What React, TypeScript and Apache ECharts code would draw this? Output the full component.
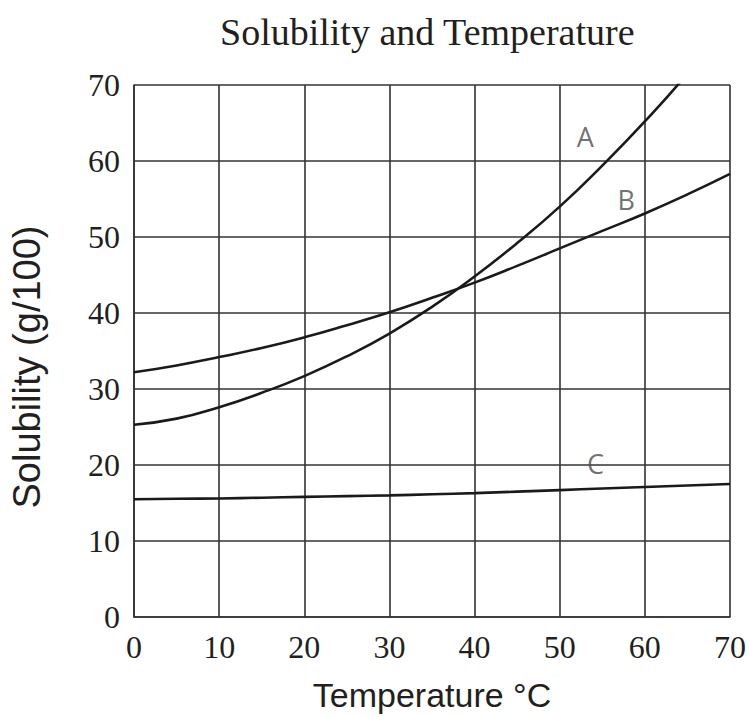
import React, { useEffect, useRef } from "react";
import * as echarts from "echarts";

const temps = [0, 5, 10, 15, 20, 25, 30, 35, 40, 45, 50, 55, 60, 65, 70];
const seriesA = [25.3, 26.1, 27.6, 29.5, 31.7, 34.3, 37.3, 40.8, 44.8, 49.2, 54.0, 59.4, 65.2, 71.5, 78.5];
const seriesB = [32.2, 33.1, 34.2, 35.4, 36.8, 38.4, 40.1, 42.0, 44.0, 46.2, 48.5, 50.8, 53.1, 55.6, 58.3];
const seriesC = [15.5, 15.55, 15.6, 15.7, 15.8, 15.9, 16.0, 16.15, 16.3, 16.5, 16.7, 16.9, 17.1, 17.3, 17.5];

const labelNames = ["A", "B", "C"];
const labelX = [53, 57.8, 54.2];
const labelY = [63.2, 54.9, 20.2];

const xTicks = [0, 10, 20, 30, 40, 50, 60, 70];
const yTicks = [0, 10, 20, 30, 40, 50, 60, 70];

const SERIF = "'Liberation Serif', 'Times New Roman', serif";
const SANS = "'Liberation Sans', Arial, sans-serif";

export default function App() {
  const ref = useRef<HTMLDivElement>(null);
  useEffect(() => {
    if (!ref.current) return;
    const chart = echarts.init(ref.current, null, { renderer: "svg" });
    const pair = (ys: number[]) => temps.map((t, i) => [t, ys[i]]);
    const lineStyle = { color: "#1a1a1a", width: 2.6 };
    chart.setOption({
      animation: false,
      backgroundColor: "#ffffff",
      title: {
        text: "Solubility and Temperature",
        left: 215,
        top: 8,
        textStyle: { fontFamily: SERIF, fontSize: 38, fontWeight: "normal", color: "#231f20" },
      },
      grid: { left: 134, right: 18, top: 85, bottom: 97, containLabel: false },
      xAxis: {
        type: "value",
        min: xTicks[0],
        max: xTicks[xTicks.length - 1],
        interval: 10,
        name: "Temperature °C",
        nameLocation: "middle",
        nameGap: 61,
        nameTextStyle: { fontFamily: SANS, fontSize: 34, color: "#231f20" },
        axisLine: { show: true, lineStyle: { color: "#333", width: 1.6 } },
        axisTick: { show: false },
        axisLabel: { fontFamily: SERIF, fontSize: 32, color: "#231f20", margin: 14 },
        splitLine: { show: true, lineStyle: { color: "#333", width: 1.6 } },
      },
      yAxis: {
        type: "value",
        min: yTicks[0],
        max: yTicks[yTicks.length - 1],
        interval: 10,
        name: "Solubility (g/100)",
        nameLocation: "middle",
        nameGap: 88,
        nameTextStyle: { fontFamily: SANS, fontSize: 38, color: "#231f20", padding: [0, 32, 0, 0] },
        axisLine: { show: true, lineStyle: { color: "#333", width: 1.6 } },
        axisTick: { show: false },
        axisLabel: { fontFamily: SERIF, fontSize: 32, color: "#231f20", margin: 14 },
        splitLine: { show: true, lineStyle: { color: "#333", width: 1.6 } },
      },
      series: [
        { type: "line", name: "A", data: pair(seriesA), smooth: true, showSymbol: false, lineStyle, clip: true },
        { type: "line", name: "B", data: pair(seriesB), smooth: true, showSymbol: false, lineStyle, clip: true },
        { type: "line", name: "C", data: pair(seriesC), smooth: true, showSymbol: false, lineStyle, clip: true },
        {
          type: "scatter",
          symbolSize: 0,
          data: labelNames.map((n, i) => ({ value: [labelX[i], labelY[i]], name: n })),
          label: {
            show: true,
            position: "inside",
            formatter: (p: any) => p.name,
            fontFamily: "'Open Sans', 'Noto Sans', sans-serif",
            fontSize: 27,
            color: "#4d4d4d",
          },
          silent: true,
        },
      ],
    });
    return () => chart.dispose();
  }, []);
  return <div ref={ref} style={{ position: "absolute", left: 0, top: 0, width: 749, height: 717 }} />;
}
